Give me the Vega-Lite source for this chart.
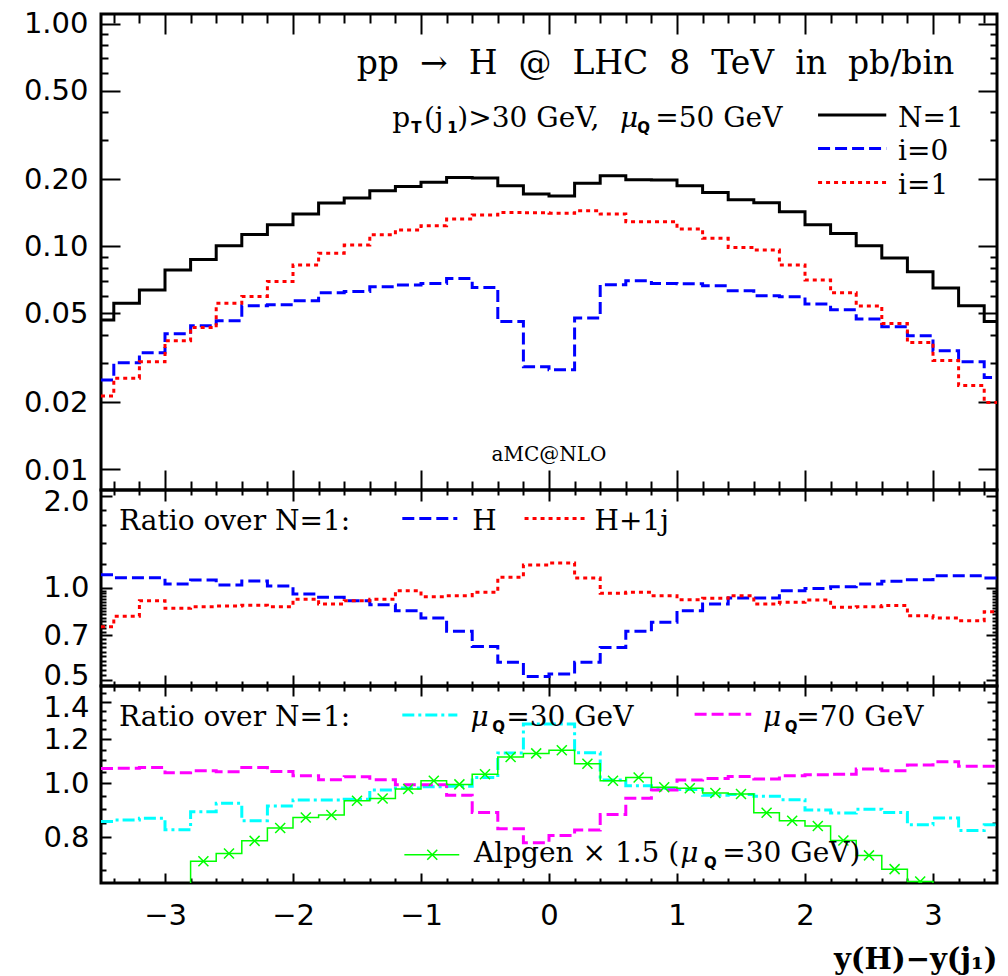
{
  "$schema": "https://vega.github.io/schema/vega-lite/v6.json",
  "padding": {"left": 21, "top": 8, "right": 10, "bottom": 10},
  "spacing": 0,
  "bounds": "flush",
  "config": {
    "view": {"stroke": "black", "strokeWidth": 3},
    "axis": {"domain": false, "grid": false, "tickColor": "black", "tickWidth": 2, "labelFont": "DejaVu Sans", "labelFontSize": 29, "labelColor": "black", "labelOverlap": false, "labelFlush": false, "titleColor": "black"},
    "text": {"font": "DejaVu Serif", "color": "black"}
  },
  "datasets": {
    "top": [
      {"x": -3.5, "N1": 0.0467, "i0": 0.0251, "i1": 0.0213},
      {"x": -3.3, "N1": 0.0555, "i0": 0.0300, "i1": 0.0256},
      {"x": -3.1, "N1": 0.0637, "i0": 0.0333, "i1": 0.0303},
      {"x": -2.9, "N1": 0.0783, "i0": 0.0405, "i1": 0.0377},
      {"x": -2.7, "N1": 0.0874, "i0": 0.0440, "i1": 0.0432},
      {"x": -2.5, "N1": 0.1007, "i0": 0.0464, "i1": 0.0555},
      {"x": -2.3, "N1": 0.1130, "i0": 0.0541, "i1": 0.0596},
      {"x": -2.1, "N1": 0.1252, "i0": 0.0547, "i1": 0.0696},
      {"x": -1.9, "N1": 0.1398, "i0": 0.0570, "i1": 0.0825},
      {"x": -1.7, "N1": 0.1567, "i0": 0.0619, "i1": 0.0933},
      {"x": -1.5, "N1": 0.1650, "i0": 0.0628, "i1": 0.1014},
      {"x": -1.3, "N1": 0.1778, "i0": 0.0659, "i1": 0.1129},
      {"x": -1.1, "N1": 0.1860, "i0": 0.0671, "i1": 0.1185},
      {"x": -0.9, "N1": 0.1940, "i0": 0.0682, "i1": 0.1239},
      {"x": -0.7, "N1": 0.2040, "i0": 0.0718, "i1": 0.1327},
      {"x": -0.5, "N1": 0.2028, "i0": 0.0654, "i1": 0.1384},
      {"x": -0.3, "N1": 0.1874, "i0": 0.0460, "i1": 0.1422},
      {"x": -0.1, "N1": 0.1720, "i0": 0.0288, "i1": 0.1415},
      {"x": 0.1, "N1": 0.1684, "i0": 0.0279, "i1": 0.1410},
      {"x": 0.3, "N1": 0.1920, "i0": 0.0477, "i1": 0.1447},
      {"x": 0.5, "N1": 0.2078, "i0": 0.0673, "i1": 0.1398},
      {"x": 0.7, "N1": 0.1994, "i0": 0.0702, "i1": 0.1290},
      {"x": 0.9, "N1": 0.1990, "i0": 0.0682, "i1": 0.1290},
      {"x": 1.1, "N1": 0.1874, "i0": 0.0680, "i1": 0.1197},
      {"x": 1.3, "N1": 0.1748, "i0": 0.0666, "i1": 0.1087},
      {"x": 1.5, "N1": 0.1620, "i0": 0.0632, "i1": 0.0990},
      {"x": 1.7, "N1": 0.1572, "i0": 0.0600, "i1": 0.0963},
      {"x": 1.9, "N1": 0.1432, "i0": 0.0594, "i1": 0.0825},
      {"x": 2.1, "N1": 0.1252, "i0": 0.0551, "i1": 0.0706},
      {"x": 2.3, "N1": 0.1144, "i0": 0.0520, "i1": 0.0619},
      {"x": 2.5, "N1": 0.1007, "i0": 0.0472, "i1": 0.0540},
      {"x": 2.7, "N1": 0.0887, "i0": 0.0436, "i1": 0.0451},
      {"x": 2.9, "N1": 0.0770, "i0": 0.0397, "i1": 0.0370},
      {"x": 3.1, "N1": 0.0650, "i0": 0.0340, "i1": 0.0307},
      {"x": 3.3, "N1": 0.0541, "i0": 0.0303, "i1": 0.0237},
      {"x": 3.5, "N1": 0.0460, "i0": 0.0258, "i1": 0.0199}
    ],
    "mid": [
      {"x": -3.5, "H": 1.105, "Hj": 0.748},
      {"x": -3.3, "H": 1.080, "Hj": 0.808},
      {"x": -3.1, "H": 1.080, "Hj": 0.909},
      {"x": -2.9, "H": 1.030, "Hj": 0.858},
      {"x": -2.7, "H": 1.062, "Hj": 0.869},
      {"x": -2.5, "H": 1.022, "Hj": 0.873},
      {"x": -2.3, "H": 1.054, "Hj": 0.878},
      {"x": -2.1, "H": 1.015, "Hj": 0.869},
      {"x": -1.9, "H": 0.956, "Hj": 0.918},
      {"x": -1.7, "H": 0.932, "Hj": 0.887},
      {"x": -1.5, "H": 0.909, "Hj": 0.909},
      {"x": -1.3, "H": 0.882, "Hj": 0.918},
      {"x": -1.1, "H": 0.843, "Hj": 0.980},
      {"x": -0.9, "H": 0.798, "Hj": 0.937},
      {"x": -0.7, "H": 0.722, "Hj": 0.944},
      {"x": -0.5, "H": 0.645, "Hj": 0.968},
      {"x": -0.3, "H": 0.572, "Hj": 1.083},
      {"x": -0.1, "H": 0.514, "Hj": 1.188},
      {"x": 0.1, "H": 0.524, "Hj": 1.206},
      {"x": 0.3, "H": 0.572, "Hj": 1.078},
      {"x": 0.5, "H": 0.640, "Hj": 0.961},
      {"x": 0.7, "H": 0.722, "Hj": 0.968},
      {"x": 0.9, "H": 0.773, "Hj": 0.944},
      {"x": 1.1, "H": 0.843, "Hj": 0.916},
      {"x": 1.3, "H": 0.887, "Hj": 0.925},
      {"x": 1.5, "H": 0.927, "Hj": 0.944},
      {"x": 1.7, "H": 0.927, "Hj": 0.887},
      {"x": 1.9, "H": 0.980, "Hj": 0.898},
      {"x": 2.1, "H": 0.997, "Hj": 0.914},
      {"x": 2.3, "H": 1.010, "Hj": 0.865},
      {"x": 2.5, "H": 1.030, "Hj": 0.869},
      {"x": 2.7, "H": 1.051, "Hj": 0.876},
      {"x": 2.9, "H": 1.064, "Hj": 0.812},
      {"x": 3.1, "H": 1.097, "Hj": 0.798},
      {"x": 3.3, "H": 1.097, "Hj": 0.782},
      {"x": 3.5, "H": 1.078, "Hj": 0.837}
    ],
    "bot": [
      {"x": -3.5, "m30": 0.855, "m70": 1.064, "alp": null},
      {"x": -3.3, "m30": 0.860, "m70": 1.065, "alp": null},
      {"x": -3.1, "m30": 0.866, "m70": 1.068, "alp": null},
      {"x": -2.9, "m30": 0.826, "m70": 1.045, "alp": 0.620},
      {"x": -2.7, "m30": 0.890, "m70": 1.054, "alp": 0.725},
      {"x": -2.5, "m30": 0.921, "m70": 1.049, "alp": 0.749},
      {"x": -2.3, "m30": 0.857, "m70": 1.068, "alp": 0.789},
      {"x": -2.1, "m30": 0.911, "m70": 1.051, "alp": 0.832},
      {"x": -1.9, "m30": 0.934, "m70": 1.032, "alp": 0.869},
      {"x": -1.7, "m30": 0.934, "m70": 1.015, "alp": 0.878},
      {"x": -1.5, "m30": 0.937, "m70": 1.028, "alp": 0.931},
      {"x": -1.3, "m30": 0.973, "m70": 1.015, "alp": 0.940},
      {"x": -1.1, "m30": 0.981, "m70": 0.9945, "alp": 0.977},
      {"x": -0.9, "m30": 0.986, "m70": 0.9945, "alp": 1.011},
      {"x": -0.7, "m30": 0.988, "m70": 0.952, "alp": 0.996},
      {"x": -0.5, "m30": 1.025, "m70": 0.887, "alp": 1.039},
      {"x": -0.3, "m30": 1.134, "m70": 0.829, "alp": 1.115},
      {"x": -0.1, "m30": 1.278, "m70": 0.783, "alp": 1.132},
      {"x": 0.1, "m30": 1.278, "m70": 0.807, "alp": 1.147},
      {"x": 0.3, "m30": 1.135, "m70": 0.825, "alp": 1.085},
      {"x": 0.5, "m30": 1.014, "m70": 0.880, "alp": 1.011},
      {"x": 0.7, "m30": 0.990, "m70": 0.941, "alp": 1.025},
      {"x": 0.9, "m30": 0.980, "m70": 0.973, "alp": 0.984},
      {"x": 1.1, "m30": 0.975, "m70": 1.014, "alp": 0.980},
      {"x": 1.3, "m30": 0.952, "m70": 1.021, "alp": 0.961},
      {"x": 1.5, "m30": 0.955, "m70": 1.029, "alp": 0.957},
      {"x": 1.7, "m30": 0.948, "m70": 1.018, "alp": 0.886},
      {"x": 1.9, "m30": 0.935, "m70": 1.032, "alp": 0.857},
      {"x": 2.1, "m30": 0.896, "m70": 1.036, "alp": 0.839},
      {"x": 2.3, "m30": 0.885, "m70": 1.039, "alp": 0.790},
      {"x": 2.5, "m30": 0.899, "m70": 1.061, "alp": 0.743},
      {"x": 2.7, "m30": 0.887, "m70": 1.054, "alp": 0.702},
      {"x": 2.9, "m30": 0.843, "m70": 1.079, "alp": 0.667},
      {"x": 3.1, "m30": 0.867, "m70": 1.094, "alp": 0.600},
      {"x": 3.3, "m30": 0.823, "m70": 1.073, "alp": null},
      {"x": 3.5, "m30": 0.843, "m70": 1.073, "alp": null}
    ]
  },
  "vconcat": [
    {
      "width": 896, "height": 476,
      "data": {"name": "top"},
      "resolve": {"axis": {"x": "independent", "y": "independent"}},
      "layer": [
        {
          "mark": {"type": "line", "interpolate": "step", "color": "black", "strokeWidth": 3, "clip": true},
          "encoding": {
            "x": {"field": "x", "type": "quantitative", "scale": {"domain": [-3.5, 3.5], "nice": false, "zero": false},
              "axis": {"orient": "bottom", "title": null, "labels": false, "values": [-3.4,-3.2,-3,-2.8,-2.6,-2.4,-2.2,-2,-1.8,-1.6,-1.4,-1.2,-1,-0.8,-0.6,-0.4,-0.2,0,0.2,0.4,0.6,0.8,1,1.2,1.4,1.6,1.8,2,2.2,2.4,2.6,2.8,3,3.2,3.4],
                "tickSize": {"condition": {"test": "abs(datum.value - round(datum.value)) < 0.01", "value": -20}, "value": -9}}},
            "y": {"field": "N1", "type": "quantitative", "scale": {"type": "log", "domain": [0.00805, 1.107], "nice": false},
              "axis": {"orient": "left", "title": null, "labelPadding": 32, "values": [0.01,0.02,0.03,0.04,0.05,0.06,0.07,0.08,0.09,0.1,0.2,0.3,0.4,0.5,0.6,0.7,0.8,0.9,1],
                "labelExpr": "indexof([0.01,0.02,0.05,0.1,0.2,0.5,1], datum.value) >= 0 ? format(datum.value, '.2f') : ''",
                "labelOffset": {"condition": {"test": "datum.value == 0.01", "value": 1}, "value": 0},
                "tickSize": {"condition": {"test": "indexof([0.01,0.02,0.05,0.1,0.2,0.5,1], datum.value) >= 0", "value": -19}, "value": -7}}}
          }
        },
        {
          "mark": {"type": "line", "interpolate": "step", "color": "#0000ff", "strokeWidth": 3, "strokeDash": [12, 5], "clip": true},
          "encoding": {
            "x": {"field": "x", "type": "quantitative", "scale": {"domain": [-3.5, 3.5], "nice": false, "zero": false},
              "axis": {"orient": "top", "title": null, "labels": false, "values": [-3.4,-3.2,-3,-2.8,-2.6,-2.4,-2.2,-2,-1.8,-1.6,-1.4,-1.2,-1,-0.8,-0.6,-0.4,-0.2,0,0.2,0.4,0.6,0.8,1,1.2,1.4,1.6,1.8,2,2.2,2.4,2.6,2.8,3,3.2,3.4],
                "tickSize": {"condition": {"test": "abs(datum.value - round(datum.value)) < 0.01", "value": -20}, "value": -9}}},
            "y": {"field": "i0", "type": "quantitative", "scale": {"type": "log", "domain": [0.00805, 1.107], "nice": false},
              "axis": {"orient": "right", "title": null, "labels": false, "values": [0.01,0.02,0.03,0.04,0.05,0.06,0.07,0.08,0.09,0.1,0.2,0.3,0.4,0.5,0.6,0.7,0.8,0.9,1],
                "tickSize": {"condition": {"test": "indexof([0.01,0.02,0.05,0.1,0.2,0.5,1], datum.value) >= 0", "value": -19}, "value": -7}}}
          }
        },
        {
          "mark": {"type": "line", "interpolate": "step", "color": "#ff0000", "strokeWidth": 3, "strokeDash": [4, 4], "clip": true},
          "encoding": {
            "x": {"field": "x", "type": "quantitative", "scale": {"domain": [-3.5, 3.5], "nice": false, "zero": false}, "axis": null},
            "y": {"field": "i1", "type": "quantitative", "scale": {"type": "log", "domain": [0.00805, 1.107], "nice": false}, "axis": null}
          }
        },
        {
          "data": {"values": [{"x1": 2.102, "x2": 2.635, "y": 0.3894}]},
          "mark": {"type": "rule", "color": "black", "strokeWidth": 3},
          "encoding": {
            "x": {"field": "x1", "type": "quantitative", "scale": {"domain": [-3.5, 3.5], "nice": false, "zero": false}, "axis": null},
            "x2": {"field": "x2"},
            "y": {"field": "y", "type": "quantitative", "scale": {"type": "log", "domain": [0.00805, 1.107], "nice": false}, "axis": null}
          }
        },
        {
          "data": {"values": [{"x1": 2.102, "x2": 2.635, "y": 0.2756}]},
          "mark": {"type": "rule", "color": "#0000ff", "strokeWidth": 3, "strokeDash": [12, 5]},
          "encoding": {
            "x": {"field": "x1", "type": "quantitative", "scale": {"domain": [-3.5, 3.5], "nice": false, "zero": false}, "axis": null},
            "x2": {"field": "x2"},
            "y": {"field": "y", "type": "quantitative", "scale": {"type": "log", "domain": [0.00805, 1.107], "nice": false}, "axis": null}
          }
        },
        {
          "data": {"values": [{"x1": 2.102, "x2": 2.635, "y": 0.1938}]},
          "mark": {"type": "rule", "color": "#ff0000", "strokeWidth": 3, "strokeDash": [4, 4]},
          "encoding": {
            "x": {"field": "x1", "type": "quantitative", "scale": {"domain": [-3.5, 3.5], "nice": false, "zero": false}, "axis": null},
            "x2": {"field": "x2"},
            "y": {"field": "y", "type": "quantitative", "scale": {"type": "log", "domain": [0.00805, 1.107], "nice": false}, "axis": null}
          }
        },
        {
          "data": {"values": [{"x": 3.166, "y": 0.598, "t": "pp\u2007→\u2007H\u2007@\u2007LHC\u20078\u2007TeV\u2007in\u2007pb/bin"}]},
          "mark": {"type": "text", "align": "right", "baseline": "alphabetic", "fontSize": 33, "font": "DejaVu Serif"},
          "encoding": {
            "x": {"field": "x", "type": "quantitative", "scale": {"domain": [-3.5, 3.5], "nice": false, "zero": false}, "axis": null},
            "y": {"field": "y", "type": "quantitative", "scale": {"type": "log", "domain": [0.00805, 1.107], "nice": false}, "axis": null},
            "text": {"field": "t"}
          }
        },
        {
          "data": {"values": [
            {"x": -1.224, "y": 0.3449, "t": "p"},
            {"x": -0.977, "y": 0.3449, "t": "(j"},
            {"x": -0.716, "y": 0.3449, "t": ")>30 GeV,"},
            {"x": 0.83, "y": 0.3449, "t": "=50 GeV"},
            {"x": 2.727, "y": 0.3449, "t": "N=1"},
            {"x": 2.727, "y": 0.2444, "t": "i=0"},
            {"x": 2.727, "y": 0.1719, "t": "i=1"}
          ]},
          "mark": {"type": "text", "align": "left", "baseline": "alphabetic", "fontSize": 28, "font": "DejaVu Serif"},
          "encoding": {
            "x": {"field": "x", "type": "quantitative", "scale": {"domain": [-3.5, 3.5], "nice": false, "zero": false}, "axis": null},
            "y": {"field": "y", "type": "quantitative", "scale": {"type": "log", "domain": [0.00805, 1.107], "nice": false}, "axis": null},
            "text": {"field": "t"}
          }
        },
        {
          "data": {"values": [
            {"x": -1.076, "y": 0.3449, "t": "T"},
            {"x": -0.795, "y": 0.3449, "t": "1"},
            {"x": 0.69, "y": 0.3449, "t": "Q"}
          ]},
          "mark": {"type": "text", "align": "left", "baseline": "alphabetic", "fontSize": 15, "fontWeight": "bold", "font": "DejaVu Sans", "dy": 6},
          "encoding": {
            "x": {"field": "x", "type": "quantitative", "scale": {"domain": [-3.5, 3.5], "nice": false, "zero": false}, "axis": null},
            "y": {"field": "y", "type": "quantitative", "scale": {"type": "log", "domain": [0.00805, 1.107], "nice": false}, "axis": null},
            "text": {"field": "t"}
          }
        },
        {
          "data": {"values": [{"x": 0.555, "y": 0.3449, "t": "μ"}]},
          "mark": {"type": "text", "align": "left", "baseline": "alphabetic", "fontSize": 28, "fontStyle": "italic", "font": "DejaVu Serif"},
          "encoding": {
            "x": {"field": "x", "type": "quantitative", "scale": {"domain": [-3.5, 3.5], "nice": false, "zero": false}, "axis": null},
            "y": {"field": "y", "type": "quantitative", "scale": {"type": "log", "domain": [0.00805, 1.107], "nice": false}, "axis": null},
            "text": {"field": "t"}
          }
        },
        {
          "data": {"values": [{"x": 0, "y": 0.0109, "t": "aMC@NLO"}]},
          "mark": {"type": "text", "align": "center", "baseline": "alphabetic", "fontSize": 20, "font": "DejaVu Serif"},
          "encoding": {
            "x": {"field": "x", "type": "quantitative", "scale": {"domain": [-3.5, 3.5], "nice": false, "zero": false}, "axis": null},
            "y": {"field": "y", "type": "quantitative", "scale": {"type": "log", "domain": [0.00805, 1.107], "nice": false}, "axis": null},
            "text": {"field": "t"}
          }
        }
      ]
    },
    {
      "width": 896, "height": 196,
      "data": {"name": "mid"},
      "resolve": {"axis": {"x": "independent", "y": "independent"}},
      "layer": [
        {
          "mark": {"type": "line", "interpolate": "step", "color": "#0000ff", "strokeWidth": 3, "strokeDash": [12, 5], "clip": true},
          "encoding": {
            "x": {"field": "x", "type": "quantitative", "scale": {"domain": [-3.5, 3.5], "nice": false, "zero": false},
              "axis": {"orient": "bottom", "title": null, "labels": false, "values": [-3.4,-3.2,-3,-2.8,-2.6,-2.4,-2.2,-2,-1.8,-1.6,-1.4,-1.2,-1,-0.8,-0.6,-0.4,-0.2,0,0.2,0.4,0.6,0.8,1,1.2,1.4,1.6,1.8,2,2.2,2.4,2.6,2.8,3,3.2,3.4],
                "tickSize": {"condition": {"test": "abs(datum.value - round(datum.value)) < 0.01", "value": -11}, "value": -5}}},
            "y": {"field": "H", "type": "quantitative", "scale": {"type": "log", "domain": [0.479, 2.087], "nice": false},
              "axis": {"orient": "left", "title": null, "labelPadding": 23, "values": [0.5,0.52,0.54,0.56,0.58,0.6,0.62,0.64,0.66,0.68,0.7,0.72,0.74,0.76,0.78,0.8,0.82,0.84,0.86,0.88,0.9,0.92,0.94,0.96,0.98,1,1.2,1.4,1.6,1.8,2],
                "labelExpr": "indexof([0.5,0.7,1,2], datum.value) >= 0 ? format(datum.value, '.1f') : ''",
                "labelOffset": {"condition": [{"test": "datum.value == 2", "value": 6}, {"test": "datum.value == 0.5", "value": -5}], "value": 0},
                "tickSize": {"condition": {"test": "indexof([0.5,0.7,1,2], datum.value) >= 0", "value": -11}, "value": -5}}}
          }
        },
        {
          "mark": {"type": "line", "interpolate": "step", "color": "#ff0000", "strokeWidth": 3, "strokeDash": [4, 4], "clip": true},
          "encoding": {
            "x": {"field": "x", "type": "quantitative", "scale": {"domain": [-3.5, 3.5], "nice": false, "zero": false},
              "axis": {"orient": "top", "title": null, "labels": false, "values": [-3.4,-3.2,-3,-2.8,-2.6,-2.4,-2.2,-2,-1.8,-1.6,-1.4,-1.2,-1,-0.8,-0.6,-0.4,-0.2,0,0.2,0.4,0.6,0.8,1,1.2,1.4,1.6,1.8,2,2.2,2.4,2.6,2.8,3,3.2,3.4],
                "tickSize": {"condition": {"test": "abs(datum.value - round(datum.value)) < 0.01", "value": -11}, "value": -5}}},
            "y": {"field": "Hj", "type": "quantitative", "scale": {"type": "log", "domain": [0.479, 2.087], "nice": false},
              "axis": {"orient": "right", "title": null, "labels": false, "values": [0.5,0.52,0.54,0.56,0.58,0.6,0.62,0.64,0.66,0.68,0.7,0.72,0.74,0.76,0.78,0.8,0.82,0.84,0.86,0.88,0.9,0.92,0.94,0.96,0.98,1,1.2,1.4,1.6,1.8,2],
                "tickSize": {"condition": {"test": "indexof([0.5,0.7,1,2], datum.value) >= 0", "value": -11}, "value": -5}}}
          }
        },
        {
          "data": {"values": [{"x1": -1.146, "x2": -0.716, "y": 1.686}]},
          "mark": {"type": "rule", "color": "#0000ff", "strokeWidth": 3, "strokeDash": [12, 5]},
          "encoding": {
            "x": {"field": "x1", "type": "quantitative", "scale": {"domain": [-3.5, 3.5], "nice": false, "zero": false}, "axis": null},
            "x2": {"field": "x2"},
            "y": {"field": "y", "type": "quantitative", "scale": {"type": "log", "domain": [0.479, 2.087], "nice": false}, "axis": null}
          }
        },
        {
          "data": {"values": [{"x1": -0.191, "x2": 0.278, "y": 1.686}]},
          "mark": {"type": "rule", "color": "#ff0000", "strokeWidth": 3, "strokeDash": [4, 4]},
          "encoding": {
            "x": {"field": "x1", "type": "quantitative", "scale": {"domain": [-3.5, 3.5], "nice": false, "zero": false}, "axis": null},
            "x2": {"field": "x2"},
            "y": {"field": "y", "type": "quantitative", "scale": {"type": "log", "domain": [0.479, 2.087], "nice": false}, "axis": null}
          }
        },
        {
          "data": {"values": [
            {"x": -3.359, "y": 1.546, "t": "Ratio over N=1:"},
            {"x": -0.599, "y": 1.546, "t": "H"},
            {"x": 0.356, "y": 1.546, "t": "H+1j"}
          ]},
          "mark": {"type": "text", "align": "left", "baseline": "alphabetic", "fontSize": 28, "font": "DejaVu Serif"},
          "encoding": {
            "x": {"field": "x", "type": "quantitative", "scale": {"domain": [-3.5, 3.5], "nice": false, "zero": false}, "axis": null},
            "y": {"field": "y", "type": "quantitative", "scale": {"type": "log", "domain": [0.479, 2.087], "nice": false}, "axis": null},
            "text": {"field": "t"}
          }
        }
      ]
    },
    {
      "width": 896, "height": 197,
      "data": {"name": "bot"},
      "resolve": {"axis": {"x": "independent", "y": "independent"}},
      "layer": [
        {
          "mark": {"type": "line", "interpolate": "step", "color": "#00ffff", "strokeWidth": 3, "strokeDash": [12, 4, 3, 4], "clip": true},
          "encoding": {
            "x": {"field": "x", "type": "quantitative", "scale": {"domain": [-3.5, 3.5], "nice": false, "zero": false},
              "axis": {"orient": "bottom", "labelPadding": 28, "values": [-3.4,-3.2,-3,-2.8,-2.6,-2.4,-2.2,-2,-1.8,-1.6,-1.4,-1.2,-1,-0.8,-0.6,-0.4,-0.2,0,0.2,0.4,0.6,0.8,1,1.2,1.4,1.6,1.8,2,2.2,2.4,2.6,2.8,3,3.2,3.4],
                "labelExpr": "abs(datum.value - round(datum.value)) < 0.01 ? format(round(datum.value), 'd') : ''",
                "tickSize": {"condition": {"test": "abs(datum.value - round(datum.value)) < 0.01", "value": -10}, "value": -5},
                "title": "y(H)−y(j₁)", "titleFont": "DejaVu Serif", "titleFontSize": 29, "titleFontWeight": "bold", "titleAnchor": "end", "titleAlign": "right", "titlePadding": 10}},
            "y": {"field": "m30", "type": "quantitative", "scale": {"type": "log", "domain": [0.663, 1.495], "nice": false},
              "axis": {"orient": "left", "title": null, "labelPadding": 22, "values": [0.7,0.75,0.8,0.85,0.9,0.95,1,1.05,1.1,1.15,1.2,1.25,1.3,1.35,1.4,1.45],
                "labelExpr": "indexof([0.8,1,1.2,1.4], datum.value) >= 0 ? format(datum.value, '.1f') : ''",
                "labelOffset": {"condition": {"test": "datum.value == 1.4", "value": 6}, "value": 0},
                "tickSize": {"condition": {"test": "indexof([0.8,1,1.2,1.4], datum.value) >= 0", "value": -10}, "value": -5}}}
          }
        },
        {
          "mark": {"type": "line", "interpolate": "step", "color": "#ff00ff", "strokeWidth": 3, "strokeDash": [12, 5], "clip": true},
          "encoding": {
            "x": {"field": "x", "type": "quantitative", "scale": {"domain": [-3.5, 3.5], "nice": false, "zero": false},
              "axis": {"orient": "top", "title": null, "labels": false, "values": [-3.4,-3.2,-3,-2.8,-2.6,-2.4,-2.2,-2,-1.8,-1.6,-1.4,-1.2,-1,-0.8,-0.6,-0.4,-0.2,0,0.2,0.4,0.6,0.8,1,1.2,1.4,1.6,1.8,2,2.2,2.4,2.6,2.8,3,3.2,3.4],
                "tickSize": {"condition": {"test": "abs(datum.value - round(datum.value)) < 0.01", "value": -10}, "value": -5}}},
            "y": {"field": "m70", "type": "quantitative", "scale": {"type": "log", "domain": [0.663, 1.495], "nice": false},
              "axis": {"orient": "right", "title": null, "labels": false, "values": [0.7,0.75,0.8,0.85,0.9,0.95,1,1.05,1.1,1.15,1.2,1.25,1.3,1.35,1.4,1.45],
                "tickSize": {"condition": {"test": "indexof([0.8,1,1.2,1.4], datum.value) >= 0", "value": -10}, "value": -5}}}
          }
        },
        {
          "mark": {"type": "line", "interpolate": "step", "color": "#00ff00", "strokeWidth": 1.5, "clip": true},
          "encoding": {
            "x": {"field": "x", "type": "quantitative", "scale": {"domain": [-3.5, 3.5], "nice": false, "zero": false}, "axis": null},
            "y": {"field": "alp", "type": "quantitative", "scale": {"type": "log", "domain": [0.663, 1.495], "nice": false}, "axis": null}
          }
        },
        {
          "mark": {"type": "point", "shape": "M-1,-1L1,1M-1,1L1,-1", "filled": false, "color": "#00ff00", "strokeWidth": 1.5, "size": 100, "opacity": 1, "clip": true},
          "encoding": {
            "x": {"field": "x", "type": "quantitative", "scale": {"domain": [-3.5, 3.5], "nice": false, "zero": false}, "axis": null},
            "y": {"field": "alp", "type": "quantitative", "scale": {"type": "log", "domain": [0.663, 1.495], "nice": false}, "axis": null}
          }
        },
        {
          "data": {"values": [{"x1": -1.146, "x2": -0.716, "y": 1.3263}]},
          "mark": {"type": "rule", "color": "#00ffff", "strokeWidth": 3, "strokeDash": [12, 4, 3, 4]},
          "encoding": {
            "x": {"field": "x1", "type": "quantitative", "scale": {"domain": [-3.5, 3.5], "nice": false, "zero": false}, "axis": null},
            "x2": {"field": "x2"},
            "y": {"field": "y", "type": "quantitative", "scale": {"type": "log", "domain": [0.663, 1.495], "nice": false}, "axis": null}
          }
        },
        {
          "data": {"values": [{"x1": 1.1375, "x2": 1.58, "y": 1.331}]},
          "mark": {"type": "rule", "color": "#ff00ff", "strokeWidth": 3, "strokeDash": [12, 5]},
          "encoding": {
            "x": {"field": "x1", "type": "quantitative", "scale": {"domain": [-3.5, 3.5], "nice": false, "zero": false}, "axis": null},
            "x2": {"field": "x2"},
            "y": {"field": "y", "type": "quantitative", "scale": {"type": "log", "domain": [0.663, 1.495], "nice": false}, "axis": null}
          }
        },
        {
          "data": {"values": [{"x1": -1.13, "x2": -0.701, "y": 0.745}]},
          "mark": {"type": "rule", "color": "#00ff00", "strokeWidth": 1.5},
          "encoding": {
            "x": {"field": "x1", "type": "quantitative", "scale": {"domain": [-3.5, 3.5], "nice": false, "zero": false}, "axis": null},
            "x2": {"field": "x2"},
            "y": {"field": "y", "type": "quantitative", "scale": {"type": "log", "domain": [0.663, 1.495], "nice": false}, "axis": null}
          }
        },
        {
          "data": {"values": [{"x": -0.912, "y": 0.745}]},
          "mark": {"type": "point", "shape": "M-1,-1L1,1M-1,1L1,-1", "filled": false, "color": "#00ff00", "strokeWidth": 1.5, "size": 100, "opacity": 1},
          "encoding": {
            "x": {"field": "x", "type": "quantitative", "scale": {"domain": [-3.5, 3.5], "nice": false, "zero": false}, "axis": null},
            "y": {"field": "y", "type": "quantitative", "scale": {"type": "log", "domain": [0.663, 1.495], "nice": false}, "axis": null}
          }
        },
        {
          "data": {"values": [
            {"x": -3.359, "y": 1.269, "t": "Ratio over N=1:"},
            {"x": -0.334, "y": 1.269, "t": "=30 GeV"},
            {"x": 1.932, "y": 1.269, "t": "=70 GeV"},
            {"x": -0.586, "y": 0.7219, "t": "Alpgen × 1.5 ("},
            {"x": 1.354, "y": 0.7219, "t": "=30 GeV)"}
          ]},
          "mark": {"type": "text", "align": "left", "baseline": "alphabetic", "fontSize": 28, "font": "DejaVu Serif"},
          "encoding": {
            "x": {"field": "x", "type": "quantitative", "scale": {"domain": [-3.5, 3.5], "nice": false, "zero": false}, "axis": null},
            "y": {"field": "y", "type": "quantitative", "scale": {"type": "log", "domain": [0.663, 1.495], "nice": false}, "axis": null},
            "text": {"field": "t"}
          }
        },
        {
          "data": {"values": [
            {"x": -0.6125, "y": 1.269, "t": "μ"},
            {"x": 1.672, "y": 1.269, "t": "μ"},
            {"x": 1.026, "y": 0.7219, "t": "μ"}
          ]},
          "mark": {"type": "text", "align": "left", "baseline": "alphabetic", "fontSize": 28, "fontStyle": "italic", "font": "DejaVu Serif"},
          "encoding": {
            "x": {"field": "x", "type": "quantitative", "scale": {"domain": [-3.5, 3.5], "nice": false, "zero": false}, "axis": null},
            "y": {"field": "y", "type": "quantitative", "scale": {"type": "log", "domain": [0.663, 1.495], "nice": false}, "axis": null},
            "text": {"field": "t"}
          }
        },
        {
          "data": {"values": [
            {"x": -0.443, "y": 1.269, "t": "Q"},
            {"x": 1.841, "y": 1.269, "t": "Q"},
            {"x": 1.211, "y": 0.7219, "t": "Q"}
          ]},
          "mark": {"type": "text", "align": "left", "baseline": "alphabetic", "fontSize": 15, "fontWeight": "bold", "font": "DejaVu Sans", "dy": 6},
          "encoding": {
            "x": {"field": "x", "type": "quantitative", "scale": {"domain": [-3.5, 3.5], "nice": false, "zero": false}, "axis": null},
            "y": {"field": "y", "type": "quantitative", "scale": {"type": "log", "domain": [0.663, 1.495], "nice": false}, "axis": null},
            "text": {"field": "t"}
          }
        }
      ]
    }
  ]
}
